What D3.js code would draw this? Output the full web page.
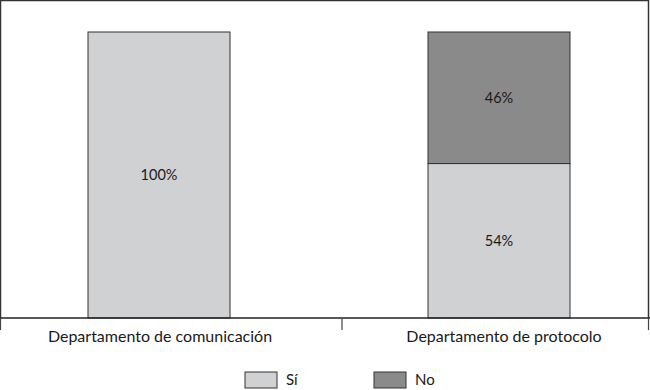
<!DOCTYPE html>
<html>
<head>
<meta charset="utf-8">
<script src="https://cdn.jsdelivr.net/npm/d3@7"></script>
<style>
  body { margin: 0; background: #fff; }
  text { font-family: Lato, "Open Sans", sans-serif; fill: #1a1a1a; }
</style>
</head>
<body>
<div id="chart"></div>
<script>
// data
const categories = ["Departamento de comunicación", "Departamento de protocolo"];
const seriesNames = ["Sí", "No"];
const siValues = [100, 54];
const noValues = [0, 46];
const yTicks = [0, 100];

const colors = {"Sí": "#d0d1d3", "No": "#8a8a8a"};

const W = 650, H = 390;
const svg = d3.select("#chart").append("svg")
    .attr("width", W)
    .attr("height", H);

// plot area
const plot = {left: 0.5, right: 648.5, top: 0.5, bottom: 318};

// scales
const x = d3.scalePoint()
    .domain(categories)
    .range([159, 499]);
const barW = 142;

const y = d3.scaleLinear()
    .domain([yTicks[0], yTicks[1]])
    .range([plot.bottom, 32]);

// frame (top, left, right)
svg.append("path")
    .attr("d", `M${plot.left},${plot.bottom} V${plot.top} H${plot.right} V${plot.bottom}`)
    .attr("fill", "none")
    .attr("stroke", "#333")
    .attr("stroke-width", 1.5);

// stacked data
const rows = categories.map((c, i) => ({cat: c, "Sí": siValues[i], "No": noValues[i]}));
const stacked = d3.stack().keys(seriesNames)(rows);

const layers = svg.selectAll(".layer")
    .data(stacked)
    .join("g")
    .attr("class", "layer")
    .attr("fill", d => colors[d.key]);

layers.selectAll("rect")
    .data(d => d.filter(p => p[1] - p[0] > 0))
    .join("rect")
    .attr("x", d => x(d.data.cat) - barW / 2)
    .attr("y", d => y(d[1]))
    .attr("width", barW)
    .attr("height", d => y(d[0]) - y(d[1]))
    .attr("stroke", "#333")
    .attr("stroke-width", 1);

// value labels
layers.selectAll("text")
    .data(d => d.filter(p => p[1] - p[0] > 0))
    .join("text")
    .attr("x", d => x(d.data.cat))
    .attr("y", d => (y(d[0]) + y(d[1])) / 2 + 5)
    .attr("text-anchor", "middle")
    .attr("font-size", 14.5)
    .text(d => (d[1] - d[0]) + "%");

// x axis
svg.append("line")
    .attr("x1", 0).attr("x2", W)
    .attr("y1", plot.bottom).attr("y2", plot.bottom)
    .attr("stroke", "#222")
    .attr("stroke-width", 1.5);

const tickXs = [plot.left, 342, plot.right];
svg.selectAll(".tick")
    .data(tickXs)
    .join("line")
    .attr("class", "tick")
    .attr("x1", d => d).attr("x2", d => d)
    .attr("y1", plot.bottom).attr("y2", plot.bottom + 12)
    .attr("stroke", "#444")
    .attr("stroke-width", 1.2);

svg.selectAll(".cat-label")
    .data(categories)
    .join("text")
    .attr("class", "cat-label")
    .attr("x", (d, i) => x(d) + (i === 0 ? 1 : 5))
    .attr("y", 342)
    .attr("text-anchor", "middle")
    .attr("font-size", 16)
    .text(d => d);

// legend
const legendX = [245, 374];
const legend = svg.selectAll(".legend")
    .data(seriesNames)
    .join("g")
    .attr("class", "legend")
    .attr("transform", (d, i) => `translate(${legendX[i]},372)`);

legend.append("rect")
    .attr("width", 32)
    .attr("height", 16)
    .attr("fill", d => colors[d])
    .attr("stroke", "#333")
    .attr("stroke-width", 1);

legend.append("text")
    .attr("x", 41)
    .attr("y", 13)
    .attr("font-size", 15)
    .text(d => d);
</script>
</body>
</html>
